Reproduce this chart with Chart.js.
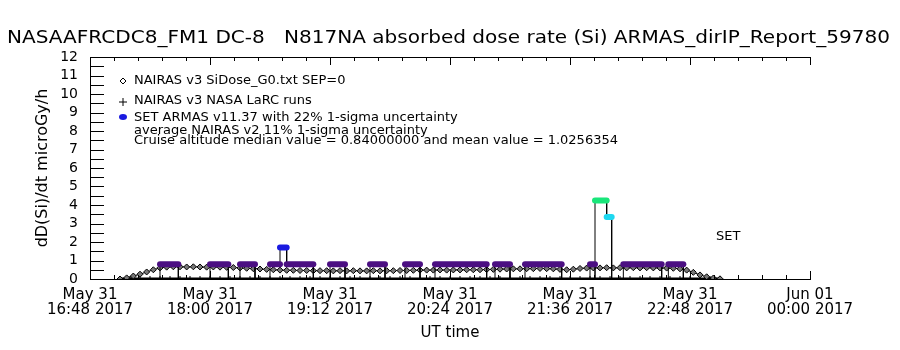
<!DOCTYPE html>
<html>
<head>
<meta charset="utf-8">
<script src="https://cdn.jsdelivr.net/npm/chart.js@4.4.1/dist/chart.umd.min.js"></script>
<style>
  html, body { margin: 0; padding: 0; background: #fff; }
</style>
</head>
<body>
<canvas id="doseChart" width="900" height="350"></canvas>
<script>
// x runs in minutes after May 31 16:48 UT
const xTickDates = ['May 31', 'May 31', 'May 31', 'May 31', 'May 31', 'May 31', 'Jun 01'];
const xTickTimes = ['16:48 2017', '18:00 2017', '19:12 2017', '20:24 2017', '21:36 2017', '22:48 2017', '00:00 2017'];

const chartTitle = 'NASAAFRCDC8_FM1 DC-8   N817NA absorbed dose rate (Si) ARMAS_dirIP_Report_59780';
const legendText = [
    'NAIRAS v3 SiDose_G0.txt SEP=0',
    'NAIRAS v3 NASA LaRC runs',
    'SET ARMAS v11.37 with 22% 1-sigma uncertainty',
    'average NAIRAS v2 11% 1-sigma uncertainty',
    'Cruise altitude median value = 0.84000000 and mean value = 1.0256354'
];

// NAIRAS v3 model, sampled every 4 min from minute 18
const nairasStart = 18;
const nairasStep = 4;
const nairasDose = [
    0.00, 0.06, 0.16, 0.26, 0.38, 0.50, 0.60, 0.64, 0.66, 0.66,
    0.65, 0.66, 0.65, 0.64, 0.65, 0.64, 0.63, 0.62, 0.60, 0.58,
    0.56, 0.54, 0.52, 0.50, 0.48, 0.47, 0.47, 0.46, 0.46, 0.45,
    0.45, 0.45, 0.44, 0.45, 0.44, 0.45, 0.44, 0.44, 0.45, 0.44,
    0.45, 0.45, 0.46, 0.46, 0.47, 0.48, 0.48, 0.48, 0.49, 0.48,
    0.49, 0.49, 0.50, 0.50, 0.50, 0.51, 0.52, 0.53, 0.54, 0.55,
    0.55, 0.56, 0.56, 0.57, 0.56, 0.55, 0.52, 0.50, 0.53, 0.57,
    0.59, 0.60, 0.60, 0.61, 0.60, 0.61, 0.60, 0.61, 0.60, 0.61,
    0.60, 0.60, 0.59, 0.58, 0.55, 0.48, 0.36, 0.22, 0.12, 0.05,
    0.01
];

// NASA LaRC runs (all at zero)
const larcTime = [
    18, 24, 30, 36, 42, 48, 54, 60, 66, 72, 78, 84, 90, 96, 102, 108,
    114, 120, 126, 132, 138, 144, 150, 156, 162, 168, 174, 180, 186, 192,
    198, 204, 210, 216, 222, 228, 234, 240, 246, 252, 258, 264, 270, 276,
    282, 288, 294, 300, 306, 312, 318, 324, 330, 336, 342, 348, 354, 360,
    366, 372, 378
];
const larcDose = [
    0, 0, 0, 0, 0, 0, 0, 0, 0, 0, 0, 0, 0, 0, 0, 0,
    0, 0, 0, 0, 0, 0, 0, 0, 0, 0, 0, 0, 0, 0,
    0, 0, 0, 0, 0, 0, 0, 0, 0, 0, 0, 0, 0, 0,
    0, 0, 0, 0, 0, 0, 0, 0, 0, 0, 0, 0, 0, 0,
    0, 0, 0
];

// SET ARMAS measurements
const armasTime = [
    42, 42, 53, 53,
    72, 72, 83, 83,
    90, 90, 99, 99,
    108, 108, 114, 114, 118, 118, 134, 134,
    144, 144, 153, 153,
    168, 168, 177, 177,
    189, 189, 198, 198,
    207, 207, 238, 238,
    243, 243, 252, 252,
    261, 261, 283, 283,
    300, 300, 303, 303, 303, 310, 310, 313, 313,
    320, 320, 343, 343,
    347, 347, 356, 356
];
const armasDose = [
    0, 0.8, 0.8, 0,
    0, 0.8, 0.8, 0,
    0, 0.8, 0.8, 0,
    0, 0.8, 0.8, 1.7, 1.7, 0.8, 0.8, 0,
    0, 0.8, 0.8, 0,
    0, 0.8, 0.8, 0,
    0, 0.8, 0.8, 0,
    0, 0.8, 0.8, 0,
    0, 0.8, 0.8, 0,
    0, 0.8, 0.8, 0,
    0, 0.8, 0.8, 0, 4.25, 4.25, 3.35, 3.35, 0,
    0, 0.8, 0.8, 0,
    0, 0.8, 0.8, 0
];

const FONT = '"DejaVu Sans", sans-serif';

const nairasPoints = nairasDose.map((d, i) => ({ x: nairasStart + i * nairasStep, y: d }));
const larcPoints = larcTime.map((t, i) => ({ x: t, y: larcDose[i] }));
const armasPoints = armasTime.map((t, i) => ({ x: t, y: armasDose[i] }));

function armasColor(v) {
    if (v >= 4) return '#19e67a';
    if (v >= 3) return '#1ed8f0';
    if (v >= 1.2) return '#1a1ae0';
    if (v > 0) return '#4b0f82';
    return 'transparent';
}

// IDL style inward ticks, top axis, title and annotation texts
const idlFrame = {
    id: 'idlFrame',
    afterDraw(chart) {
        const { ctx, chartArea: a, scales: { x, y } } = chart;
        ctx.save();
        ctx.strokeStyle = '#000';
        ctx.lineWidth = 1;
        ctx.beginPath();
        ctx.moveTo(a.left, a.top + 0.5);
        ctx.lineTo(a.right, a.top + 0.5);
        for (let k = 0; k <= 30; k++) {
            const px = Math.round(x.getPixelForValue(x.min + k * 14.4)) + 0.5;
            const len = k % 5 === 0 ? 8 : 4;
            ctx.moveTo(px, a.top);
            ctx.lineTo(px, a.top + len);
            ctx.moveTo(px, a.bottom);
            ctx.lineTo(px, a.bottom - len);
        }
        for (let k = 0; k <= 24; k++) {
            const py = Math.round(y.getPixelForValue(k * 0.5)) + 0.5;
            ctx.moveTo(a.left, py);
            ctx.lineTo(a.left + 14, py);
        }
        ctx.stroke();

        // title stretched to the width of the original
        ctx.fillStyle = '#000';
        ctx.textBaseline = 'middle';
        ctx.font = '18px ' + FONT;
        const tw = ctx.measureText(chartTitle).width;
        ctx.save();
        ctx.translate(7, 38);
        ctx.scale(883 / tw, 1);
        ctx.fillText(chartTitle, 0, 0);
        ctx.restore();

        // legend block
        ctx.font = '13px ' + FONT;
        const rows = [81, 101, 118, 131, 141];
        legendText.forEach((t, i) => ctx.fillText(t, 134, rows[i]));

        ctx.beginPath();
        ctx.moveTo(123, rows[0] - 3); ctx.lineTo(126, rows[0]);
        ctx.lineTo(123, rows[0] + 3); ctx.lineTo(120, rows[0]);
        ctx.closePath();
        ctx.stroke();
        ctx.beginPath();
        ctx.moveTo(119, rows[1] + 1); ctx.lineTo(127, rows[1] + 1);
        ctx.moveTo(123, rows[1] - 3); ctx.lineTo(123, rows[1] + 5);
        ctx.stroke();
        ctx.fillStyle = '#1a1ae0';
        ctx.beginPath();
        ctx.ellipse(123, rows[2] - 1, 4, 3, 0, 0, Math.PI * 2);
        ctx.fill();

        ctx.fillStyle = '#000';
        ctx.font = '13px ' + FONT;
        ctx.fillText('SET', 716, 237);
        ctx.restore();
    }
};

new Chart(document.getElementById('doseChart'), {
    type: 'line',
    data: {
        datasets: [
            {
                label: 'ARMAS',
                data: armasPoints,
                borderWidth: 6,
                borderCapStyle: 'round',
                borderColor: '#4b0f82',
                pointRadius: 0,
                segment: {
                    borderColor: c => c.p0.parsed.y !== c.p1.parsed.y ? 'transparent' : armasColor(c.p0.parsed.y)
                },
                order: 0
            },
            {
                label: 'ARMAS link',
                data: armasPoints,
                borderColor: '#000',
                borderWidth: 1,
                pointRadius: 0,
                order: 1
            },
            {
                label: 'NAIRAS v3 SiDose_G0',
                data: nairasPoints,
                borderColor: '#000',
                borderWidth: 1,
                pointStyle: 'rectRot',
                pointRadius: 3,
                pointBorderColor: '#000',
                pointBackgroundColor: '#777',
                pointBorderWidth: 1,
                order: 2
            },
            {
                label: 'NAIRAS v3 NASA LaRC',
                data: larcPoints,
                borderColor: '#000',
                borderWidth: 3,
                pointStyle: 'cross',
                pointRadius: 3,
                pointBorderColor: '#000',
                pointBorderWidth: 1,
                order: 3
            }
        ]
    },
    options: {
        responsive: false,
        animation: false,
        layout: { padding: { top: 57, right: 90, left: 0, bottom: 0 } },
        elements: { line: { tension: 0 } },
        plugins: { legend: { display: false }, tooltip: { enabled: false }, title: { display: false } },
        scales: {
            x: {
                type: 'linear',
                min: 0,
                max: 432,
                afterFit: s => { s.height = 71; },
                grid: { display: false, drawTicks: false },
                border: { display: true, color: '#000', width: 1 },
                ticks: {
                    stepSize: 72,
                    autoSkip: false,
                    maxRotation: 0,
                    padding: 9,
                    color: '#000',
                    font: { family: FONT, size: 15, lineHeight: 1.0 },
                    callback: (v, i) => [xTickDates[i], xTickTimes[i]]
                },
                title: { display: true, text: 'UT time', color: '#000', font: { family: FONT, size: 15 }, padding: { bottom: 8 } }
            },
            y: {
                min: 0,
                max: 12,
                afterFit: s => { s.width = 90; },
                grid: { display: false, drawTicks: false },
                border: { display: true, color: '#000', width: 1 },
                ticks: {
                    stepSize: 1,
                    autoSkip: false,
                    padding: 12,
                    color: '#000',
                    font: { family: FONT, size: 14, lineHeight: 1.0 }
                },
                title: { display: true, text: 'dD(Si)/dt microGy/h', color: '#000', font: { family: FONT, size: 16 }, padding: { top: 33 } }
            }
        }
    },
    plugins: [idlFrame]
});
</script>
</body>
</html>
